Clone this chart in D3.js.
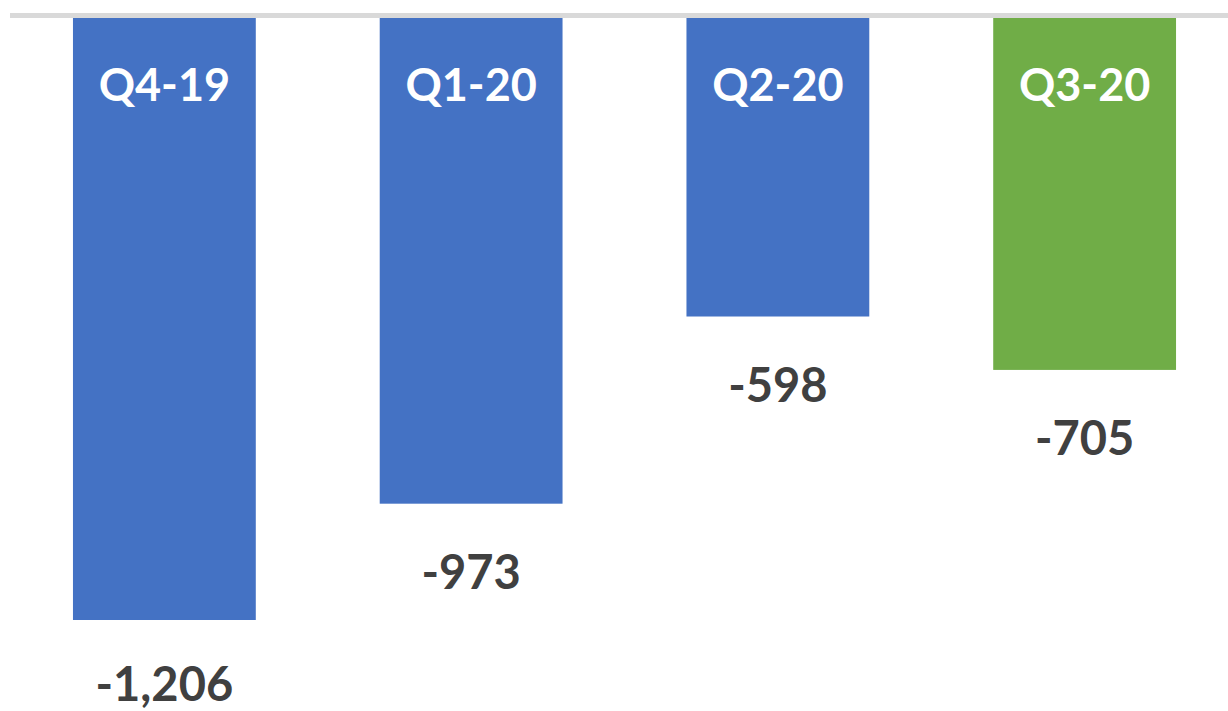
<!DOCTYPE html>
<html lang="en">
<head>
<meta charset="utf-8" />
<title>Quarterly values</title>
<style>
  html, body { margin: 0; padding: 0; background: #fff; }
  svg { display: block; }
  .qlabel { font-family: Lato, "Open Sans", sans-serif; font-weight: 700; fill: #fff; }
  .vlabel { font-family: Lato, "Open Sans", sans-serif; font-weight: 700; fill: #404040; }
</style>
</head>
<body>
<script src="https://d3js.org/d3.v7.min.js"></script>
<script>
  // data
  const quarters = ["Q4-19", "Q1-20", "Q2-20", "Q3-20"];
  const values = [-1206, -973, -598, -705];
  const barColors = ["#4472C4", "#4472C4", "#4472C4", "#70AD47"];

  const width = 1228, height = 711;

  const svg = d3.select("body")
      .append("svg")
      .attr("width", width)
      .attr("height", height);

  const xScale = d3.scaleBand()
      .domain(quarters)
      .range([11, 1238])
      .paddingInner(0.404)
      .paddingOuter(0.202);

  const yScale = d3.scaleLinear()
      .domain([0, -1206])
      .range([18, 620]);

  const data = quarters.map((q, i) => ({q: q, v: values[i], c: barColors[i]}));

  //bars
  svg.selectAll("rect.bar")
      .data(data)
      .enter()
      .append("rect")
      .attr("class", "bar")
      .attr("x", d => xScale(d.q))
      .attr("y", yScale(0))
      .attr("width", xScale.bandwidth())
      .attr("height", d => yScale(d.v) - yScale(0))
      .style("fill", d => d.c);

  //zero line on top
  svg.append("line")
      .attr("x1", 10)
      .attr("x2", width)
      .attr("y1", yScale(0) - 2.5)
      .attr("y2", yScale(0) - 2.5)
      .style("stroke", "#d9d9d9")
      .style("stroke-width", 5);

  //category labels inside the bars
  svg.selectAll("text.qlabel")
      .data(data)
      .enter()
      .append("text")
      .attr("class", "qlabel")
      .attr("x", d => xScale(d.q) + xScale.bandwidth() / 2)
      .attr("y", 101)
      .attr("text-anchor", "middle")
      .style("font-size", "45px")
      .text(d => d.q);

  //value labels under the bars
  svg.selectAll("text.vlabel")
      .data(data)
      .enter()
      .append("text")
      .attr("class", "vlabel")
      .attr("x", d => xScale(d.q) + xScale.bandwidth() / 2)
      .attr("y", d => Math.min(yScale(d.v) + 85, 701))
      .attr("text-anchor", "middle")
      .style("font-size", "47px")
      .text(d => d3.format(",")(d.v).replace("−", "-"));
</script>
</body>
</html>
